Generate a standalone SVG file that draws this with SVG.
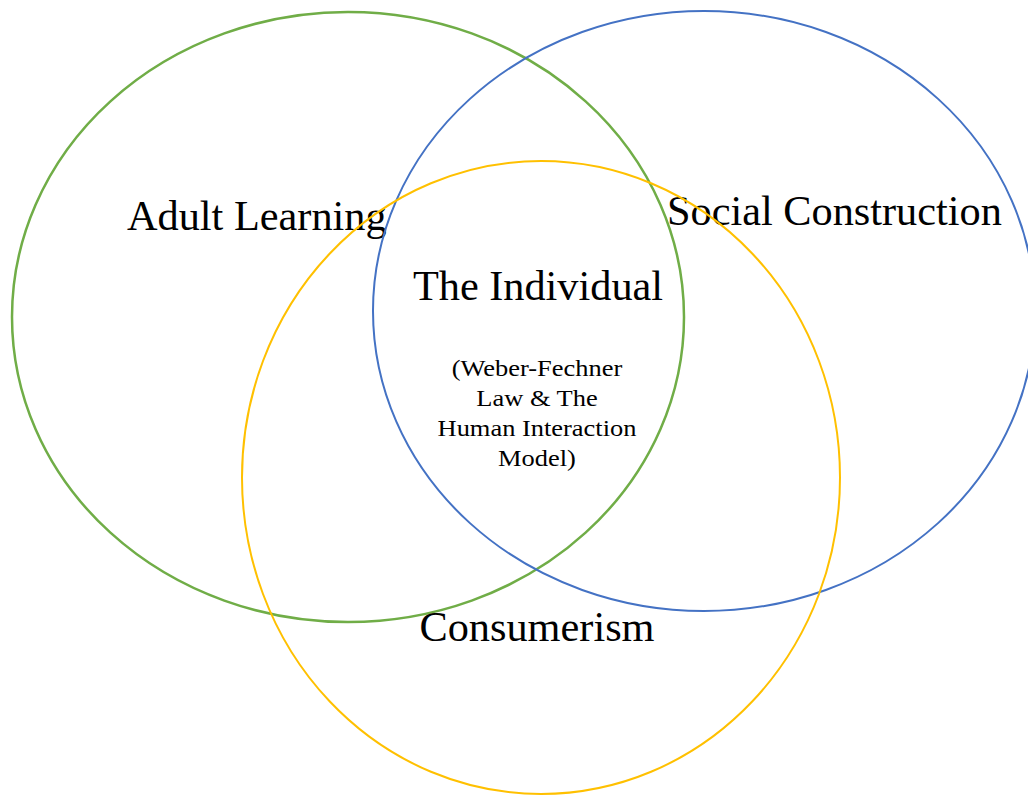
<svg xmlns="http://www.w3.org/2000/svg" width="1028" height="796" viewBox="0 0 1028 796">
  <style>
    .ring { fill: none; }
    .big { font-family: "Liberation Serif", "Times New Roman", serif; font-size: 42.3px; fill: #000; }
    .small { font-family: "Liberation Serif", "Times New Roman", serif; font-size: 23px; fill: #000; text-anchor: middle; }
  </style>
  <rect width="1028" height="796" fill="#fff"/>
  <g id="adult-learning">
    <ellipse class="ring" cx="348" cy="317" rx="336" ry="305" stroke="#70AD47" stroke-width="2.5"/>
    <text class="big" x="127" y="230">Adult Learning</text>
  </g>
  <g id="social-construction">
    <ellipse class="ring" cx="704" cy="311" rx="331" ry="300" stroke="#4472C4" stroke-width="2"/>
    <text class="big" x="667" y="225">Social Construction</text>
  </g>
  <g id="consumerism">
    <ellipse class="ring" cx="541" cy="477.5" rx="299" ry="316.5" stroke="#FFC000" stroke-width="2"/>
    <text class="big" x="537" y="641" text-anchor="middle">Consumerism</text>
  </g>
  <g id="the-individual">
    <text class="big" x="538" y="300" text-anchor="middle">The Individual</text>
    <!-- subtitle set slightly wide -->
    <g transform="translate(537 0) scale(1.15 1)">
      <text class="small" x="0" y="376">(Weber-Fechner</text>
      <text class="small" x="0" y="406">Law &amp; The</text>
      <text class="small" x="0" y="436">Human Interaction</text>
      <text class="small" x="0" y="466">Model)</text>
    </g>
  </g>
</svg>
